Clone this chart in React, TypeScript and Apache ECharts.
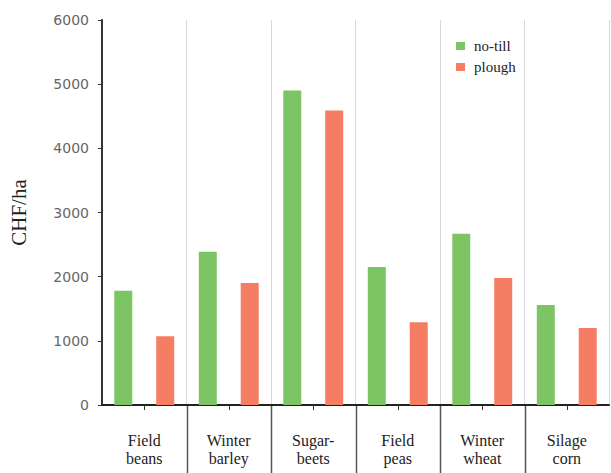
import React, { useEffect, useRef } from "react";
import * as echarts from "echarts";

const categories = ["Field\nbeans", "Winter\nbarley", "Sugar-\nbeets", "Field\npeas", "Winter\nwheat", "Silage\ncorn"];
const noTill = [1780, 2390, 4900, 2150, 2670, 1560];
const plough = [1070, 1900, 4590, 1290, 1980, 1200];
const seriesNames = ["no-till", "plough"];
const yTicks = { min: 0, max: 6000, interval: 1000 };

const SERIF = "'Liberation Serif', 'DejaVu Serif', serif";
const SANS = "'DejaVu Sans', sans-serif";

export default function App() {
  const ref = useRef<HTMLDivElement>(null);
  useEffect(() => {
    if (!ref.current) return;
    const chart = echarts.init(ref.current, undefined, { renderer: "svg" });
    chart.setOption({
      animation: false,
      backgroundColor: "#ffffff",
      grid: { left: 99, right: 2, top: 20, bottom: 68 },
      legend: {
        orient: "vertical",
        left: 451,
        top: 33,
        itemWidth: 9,
        itemHeight: 8,
        itemGap: 5,
        icon: "rect",
        textStyle: { fontFamily: SERIF, fontSize: 15, lineHeight: 16, color: "#222", padding: [0, 0, 0, 4] },
        data: seriesNames,
      },
      xAxis: {
        type: "category",
        data: categories,
        axisLine: { lineStyle: { color: "#222", width: 2 } },
        axisTick: { show: true, alignWithLabel: true, length: 5, lineStyle: { color: "#333" } },
        axisLabel: {
          fontFamily: SERIF,
          fontSize: 16,
          color: "#222",
          lineHeight: 18,
          margin: 26,
          interval: 0,
        },
        splitLine: { show: true, lineStyle: { color: "#d8d8dc", width: 1 } },
      },
      yAxis: {
        type: "value",
        min: yTicks.min,
        max: yTicks.max,
        interval: yTicks.interval,
        name: "CHF/ha",
        nameLocation: "middle",
        nameGap: 73,
        nameTextStyle: { fontFamily: SERIF, fontSize: 21, color: "#222" },
        axisLine: { show: true, lineStyle: { color: "#333", width: 2 } },
        axisTick: { show: true, length: 4, lineStyle: { color: "#333" } },
        axisLabel: {
          fontFamily: SANS,
          fontSize: 14,
          color: "#666",
          margin: 13,
          formatter: (v: number) => String(v),
        },
        splitLine: { show: false },
      },
      series: [
        {
          name: seriesNames[0],
          type: "bar",
          data: noTill,
          barWidth: 18,
          barGap: "133%",
          itemStyle: { color: "#7cc464" },
        },
        {
          name: seriesNames[1],
          type: "bar",
          data: plough,
          barWidth: 18,
          itemStyle: { color: "#f57d63" },
        },
      ],
    });
    // dark separators below the axis, between categories (positions from axis scale)
    const yBase = chart.convertToPixel({ yAxisIndex: 0 }, 0) as number;
    const lines: any[] = [];
    for (let i = 1; i < categories.length; i++) {
      const a = chart.convertToPixel({ xAxisIndex: 0 }, i - 1) as number;
      const b = chart.convertToPixel({ xAxisIndex: 0 }, i) as number;
      const x = Math.round((a + b) / 2) + 0.5;
      lines.push({
        type: "line",
        shape: { x1: x, y1: yBase, x2: x, y2: 473 },
        style: { stroke: "#555", lineWidth: 1.5 },
        silent: true,
      });
    }
    chart.setOption({ graphic: lines });
    return () => chart.dispose();
  }, []);
  return (
    <div
      ref={ref}
      style={{ position: "fixed", left: 0, top: 0, width: 611, height: 473 }}
    />
  );
}
